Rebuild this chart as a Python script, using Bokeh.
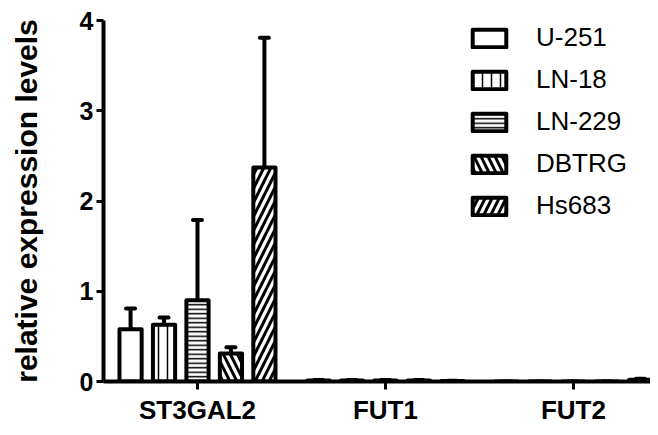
from bokeh.plotting import figure
from bokeh.models import (Range1d, FixedTicker, Whisker, TeeHead, Legend, LegendItem,
                          ColumnDataSource)
from bokeh.embed import file_html
from bokeh.resources import INLINE

genes = ["ST3GAL2", "FUT1", "FUT2"]
cell_lines = ["U-251", "LN-18", "LN-229", "DBTRG", "Hs683"]
# mean values per cell line, order follows genes
u251 = [0.58, 0.012, 0.0]
ln18 = [0.63, 0.012, 0.0]
ln229 = [0.90, 0.012, 0.0]
dbtrg = [0.31, 0.012, 0.0]
hs683 = [2.37, 0.006, 0.02]
# upper error (SD) per cell line
u251_err = [0.23, 0.004, 0.0]
ln18_err = [0.08, 0.004, 0.0]
ln229_err = [0.89, 0.004, 0.0]
dbtrg_err = [0.07, 0.004, 0.0]
hs683_err = [1.44, 0.003, 0.01]
y_ticks = [0, 1, 2, 3, 4]

series = [u251, ln18, ln229, dbtrg, hs683]
errors = [u251_err, ln18_err, ln229_err, dbtrg_err, hs683_err]
patterns = [" ", "vertical_line", "horizontal_line", "left_diagonal_line", "right_diagonal_line"]
scales = [10, 9, 4.5, 14, 14]
weights = [1, 1.5, 1.5, 3, 3]
offsets = [-0.356, -0.178, 0.0, 0.178, 0.356]
bar_w = 0.118

FONT = "Liberation Sans"

p = figure(width=650, height=427, output_backend="svg", toolbar_location=None,
           x_range=Range1d(-0.5, 2.41), y_range=Range1d(0, 4),
           min_border_left=103, min_border_right=0, min_border_top=20, min_border_bottom=39)
p.outline_line_color = None
p.xgrid.visible = False
p.ygrid.visible = False
p.background_fill_color = "white"

items = []
for name, vals, errs, pat, sc, wt, off in zip(cell_lines, series, errors, patterns, scales, weights, offsets):
    xs = [i + off for i in range(len(genes))]
    src = ColumnDataSource(dict(x=xs, top=vals, upper=[v + e for v, e in zip(vals, errs)]))
    r = p.vbar(x="x", top="top", width=bar_w, source=src, fill_color="white",
               line_color="black", line_width=4, line_join="round",
               hatch_pattern=pat, hatch_scale=sc, hatch_weight=wt, hatch_color="black")
    w = Whisker(base="x", lower="top", upper="upper", source=src, dimension="height",
                line_width=4, line_color="black",
                upper_head=TeeHead(size=9, line_width=4, line_color="black", line_cap="round"),
                lower_head=None)
    p.add_layout(w)
    items.append(LegendItem(label=name, renderers=[r]))

legend = Legend(items=items, location=(365, 160), padding=0, margin=0,
                border_line_color=None, background_fill_alpha=0,
                glyph_width=42, glyph_height=22, label_height=30, spacing=11,
                label_standoff=26, label_text_font=FONT, label_text_font_size="26px",
                label_text_color="black")
p.add_layout(legend)

# x axis
p.xaxis.ticker = FixedTicker(ticks=list(range(len(genes))))
p.xaxis.major_label_overrides = {i: g for i, g in enumerate(genes)}
p.xaxis.minor_tick_line_color = None
p.xaxis.major_tick_in = 0
p.xaxis.major_tick_out = 8
p.xaxis.major_tick_line_width = 3
p.xaxis.major_tick_line_color = "black"
p.xaxis.axis_line_width = 4
p.xaxis.axis_line_color = "black"
p.xaxis.major_label_text_font = FONT
p.xaxis.major_label_text_font_style = "bold"
p.xaxis.major_label_text_font_size = "26px"
p.xaxis.major_label_text_color = "black"
p.xaxis.major_label_standoff = 5

# y axis
p.yaxis.ticker = FixedTicker(ticks=y_ticks)
p.yaxis.minor_tick_line_color = None
p.yaxis.major_tick_in = 0
p.yaxis.major_tick_out = 7
p.yaxis.major_tick_line_width = 3
p.yaxis.major_tick_line_color = "black"
p.yaxis.axis_line_width = 4
p.yaxis.axis_line_color = "black"
p.yaxis.major_label_text_font = FONT
p.yaxis.major_label_text_font_style = "bold"
p.yaxis.major_label_text_font_size = "25px"
p.yaxis.major_label_text_color = "black"
p.yaxis.major_label_standoff = 3
p.yaxis.axis_label = "relative expression levels"
p.yaxis.axis_label_text_font = FONT
p.yaxis.axis_label_text_font_style = "bold"
p.yaxis.axis_label_text_font_size = "30px"
p.yaxis.axis_label_text_color = "black"
p.yaxis.axis_label_standoff = 34

open("out.html", "w").write(file_html(p, INLINE))
